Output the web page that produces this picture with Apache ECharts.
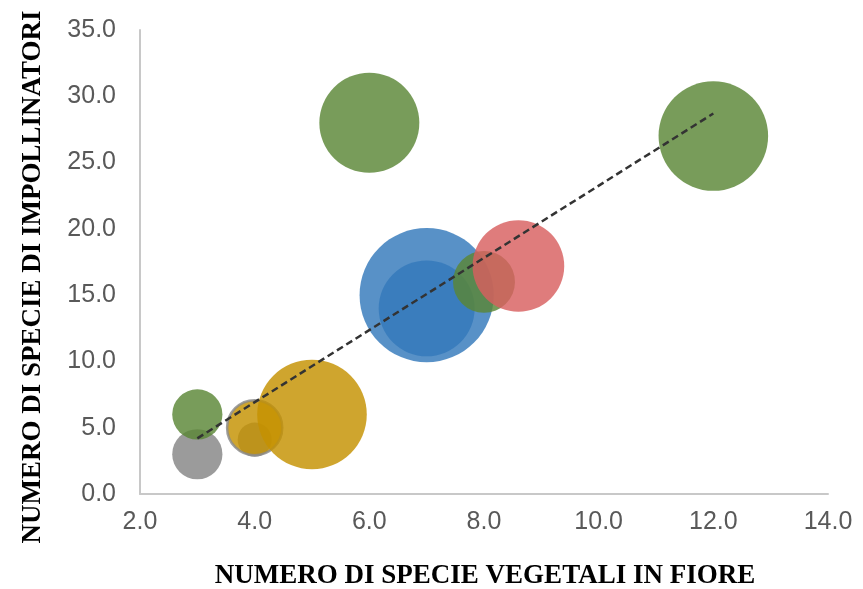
<!DOCTYPE html>
<html>
<head>
<meta charset="utf-8">
<script src="https://cdn.jsdelivr.net/npm/echarts@6/dist/echarts.min.js"></script>
<style>
html,body{margin:0;padding:0;background:#fff;}
#chart{width:863px;height:589px;}
</style>
</head>
<body>
<div id="chart"></div>
<script>
// Data
const xVals  = [3,   3,   4,   4,   5,   6,   7,   7,   8,   8.6,  12];
const yVals  = [3,   6,   4.1, 5,   6,   28,  15,  14,  16,  17.2, 27];
const sizes  = [6.3, 6.3, 2.9, 7.6, 30,  25,  45,  23,  9.6, 21,   30];
const groups = ['grigio','verde','grigio','oroBordo','oro','verde','blu','blu','verde','rosso','verde'];
const trendX = [3, 12];
const trendY = [4.2, 28.7];
const xTicks = [2, 14, 2];   // min, max, interval
const yTicks = [0, 35, 5];
const xTitle = 'NUMERO DI SPECIE VEGETALI IN FIORE';
const yTitle = 'NUMERO DI SPECIE DI IMPOLLINATORI';

const palette = {
  verde:    { color: '#5A8636' },
  grigio:   { color: '#858585' },
  blu:      { color: '#3379BB' },
  oro:      { color: '#C49100' },
  oroBordo: { color: '#C49100', borderColor: '#8A8A8A', borderWidth: 2.5 },
  rosso:    { color: '#D85F5F' }
};

const bubbleData = xVals.map((x, i) => ({
  value: [x, yVals[i], sizes[i]],
  itemStyle: Object.assign({ opacity: 0.82 }, palette[groups[i]])
}));

const chart = echarts.init(document.getElementById('chart'), null, {renderer: 'canvas'});
const tickFont = '"Liberation Sans", Arial, sans-serif';
const titleFont = '"Liberation Serif", "Times New Roman", serif';

chart.setOption({
  animation: false,
  backgroundColor: '#ffffff',
  grid: { left: 140, right: 35, top: 30, bottom: 95, containLabel: false },
  xAxis: {
    type: 'value', min: xTicks[0], max: xTicks[1], interval: xTicks[2],
    axisLine: { show: true, onZero: false, lineStyle: { color: '#C8C8C8', width: 2 } },
    axisTick: { show: false },
    splitLine: { show: false },
    axisLabel: { color: '#595959', fontFamily: tickFont, fontSize: 25, margin: 16,
      formatter: v => v.toFixed(1) }
  },
  yAxis: {
    type: 'value', min: yTicks[0], max: yTicks[1], interval: yTicks[2],
    axisLine: { show: true, onZero: false, lineStyle: { color: '#C8C8C8', width: 2 } },
    axisTick: { show: false },
    splitLine: { show: false },
    axisLabel: { color: '#595959', fontFamily: tickFont, fontSize: 25, margin: 24,
      formatter: v => v.toFixed(1) }
  },
  series: [
    {
      type: 'scatter',
      data: bubbleData,
      symbolSize: d => 20 * Math.sqrt(d[2]),
      z: 2
    },
    {
      type: 'line',
      data: trendX.map((x, i) => [x, trendY[i]]),
      symbol: 'none',
      lineStyle: { color: '#333333', width: 2.5, type: [7, 4] },
      z: 5
    }
  ],
  graphic: [
    {
      type: 'text', x: 485, y: 576,
      style: { text: xTitle, fontFamily: titleFont, fontWeight: 'bold', fontSize: 27, fill: '#000',
        align: 'center', verticalAlign: 'middle' }
    },
    {
      type: 'text', x: 33, y: 277, rotation: Math.PI / 2,
      style: { text: yTitle, fontFamily: titleFont, fontWeight: 'bold', fontSize: 27, fill: '#000',
        align: 'center', verticalAlign: 'middle' }
    }
  ]
});
</script>
</body>
</html>
